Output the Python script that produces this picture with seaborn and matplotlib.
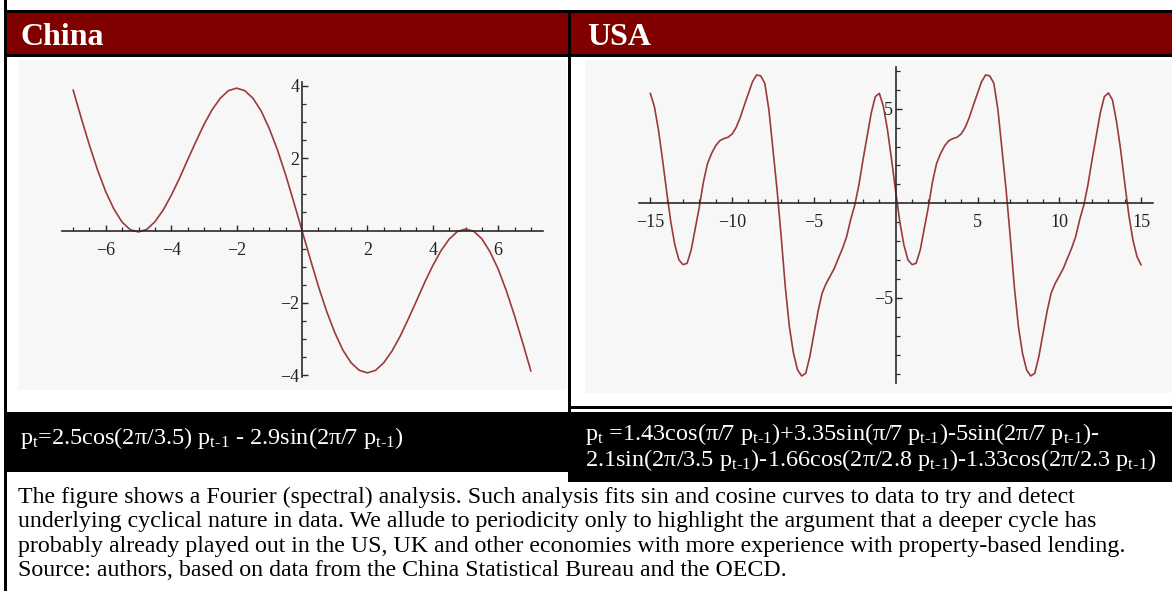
import numpy as np
import pandas as pd
import matplotlib
matplotlib.use("Agg")
import matplotlib.pyplot as plt
from matplotlib.patches import Rectangle
from matplotlib.ticker import FixedLocator, FixedFormatter
import seaborn as sns

# ---------------- data ----------------
china_x = [-7.0, -6.75, -6.5, -6.25, -6.0, -5.75, -5.5, -5.25, -5.0, -4.75,
           -4.5, -4.25, -4.0, -3.75, -3.5, -3.25, -3.0, -2.75, -2.5, -2.25,
           -2.0, -1.75, -1.5, -1.25, -1.0, -0.75, -0.5, -0.25, 0.0, 0.25,
           0.5, 0.75, 1.0, 1.25, 1.5, 1.75, 2.0, 2.25, 2.5, 2.75,
           3.0, 3.25, 3.5, 3.75, 4.0, 4.25, 4.5, 4.75, 5.0, 5.25,
           5.5, 5.75, 6.0, 6.25, 6.5, 6.75, 7.0]
china_y = [3.89, 3.11, 2.36, 1.67, 1.07, 0.59, 0.23, 0.02, -0.04, 0.03,
           0.24, 0.56, 0.97, 1.44, 1.95, 2.45, 2.93, 3.34, 3.66, 3.87,
           3.94, 3.87, 3.66, 3.31, 2.82, 2.23, 1.54, 0.78, 0.0, -0.78,
           -1.54, -2.23, -2.82, -3.31, -3.66, -3.87, -3.94, -3.87, -3.66, -3.34,
           -2.93, -2.45, -1.95, -1.44, -0.97, -0.56, -0.24, -0.03, 0.04, -0.02,
           -0.23, -0.59, -1.07, -1.67, -2.36, -3.11, -3.89]

usa_x = [-15.0, -14.75, -14.5, -14.25, -14.0, -13.75, -13.5, -13.25, -13.0, -12.75,
         -12.5, -12.25, -12.0, -11.75, -11.5, -11.25, -11.0, -10.75, -10.5, -10.25,
         -10.0, -9.75, -9.5, -9.25, -9.0, -8.75, -8.5, -8.25, -8.0, -7.75,
         -7.5, -7.25, -7.0, -6.75, -6.5, -6.25, -6.0, -5.75, -5.5, -5.25,
         -5.0, -4.75, -4.5, -4.25, -4.0, -3.75, -3.5, -3.25, -3.0, -2.75,
         -2.5, -2.25, -2.0, -1.75, -1.5, -1.25, -1.0, -0.75, -0.5, -0.25,
         0.0, 0.25, 0.5, 0.75, 1.0, 1.25, 1.5, 1.75, 2.0, 2.25,
         2.5, 2.75, 3.0, 3.25, 3.5, 3.75, 4.0, 4.25, 4.5, 4.75,
         5.0, 5.25, 5.5, 5.75, 6.0, 6.25, 6.5, 6.75, 7.0, 7.25,
         7.5, 7.75, 8.0, 8.25, 8.5, 8.75, 9.0, 9.25, 9.5, 9.75,
         10.0, 10.25, 10.5, 10.75, 11.0, 11.25, 11.5, 11.75, 12.0, 12.25,
         12.5, 12.75, 13.0, 13.25, 13.5, 13.75, 14.0, 14.25, 14.5, 14.75,
         15.0]
usa_y = [5.81, 5.11, 3.87, 2.29, 0.62, -0.97, -2.20, -2.99, -3.24, -3.17,
         -2.46, -1.32, -0.18, 1.14, 2.11, 2.64, 3.05, 3.31, 3.42, 3.49,
         3.66, 4.01, 4.54, 5.19, 5.81, 6.43, 6.78, 6.73, 6.34, 4.93,
         2.82, 0.70, -1.76, -4.40, -6.51, -7.92, -8.80, -9.12, -8.98, -8.10,
         -6.90, -5.72, -4.75, -4.23, -3.84, -3.43, -2.90, -2.38, -1.76, -0.85,
         -0.09, 0.97, 2.29, 3.52, 4.75, 5.63, 5.81, 5.11, 3.87, 2.29,
         0.62, -0.97, -2.20, -2.99, -3.24, -3.17, -2.46, -1.32, -0.18, 1.14,
         2.11, 2.64, 3.05, 3.31, 3.42, 3.49, 3.66, 4.01, 4.54, 5.19,
         5.81, 6.43, 6.78, 6.73, 6.34, 4.93, 2.82, 0.70, -1.76, -4.40,
         -6.51, -7.92, -8.80, -9.12, -8.98, -8.10, -6.90, -5.72, -4.75, -4.23,
         -3.84, -3.43, -2.90, -2.38, -1.76, -0.85, -0.09, 0.97, 2.29, 3.52,
         4.75, 5.63, 5.83, 5.46, 4.31, 2.82, 1.06, -0.62, -1.94, -2.82,
         -3.26]

china_xticks = [-6, -4, -2, 2, 4, 6]
china_xlabels = ["\u22126", "\u22124", "\u22122", "2", "4", "6"]
china_yticks = [-4, -2, 2, 4]
china_ylabels = ["\u22124", "\u22122", "2", "4"]
usa_xticks = [-15, -10, -5, 5, 10, 15]
usa_xlabels = ["\u221215", "\u221210", "\u22125", "5", "10", "15"]
usa_yticks = [-5, 5]
usa_ylabels = ["\u22125", "5"]

headers = ["China", "USA"]
formula_china = r"p$_{\mathrm{t}}$=2.5cos(2π/3.5) p$_{\text{t-1}}$ - 2.9sin(2π/7 p$_{\text{t-1}}$)"
formula_usa = [r"p$_{\mathrm{t}}$ =1.43cos(π/7 p$_{\text{t-1}}$)+3.35sin(π/7 p$_{\text{t-1}}$)-5sin(2π/7 p$_{\text{t-1}}$)-",
               r"2.1sin(2π/3.5 p$_{\text{t-1}}$)-1.66cos(2π/2.8 p$_{\text{t-1}}$)-1.33cos(2π/2.3 p$_{\text{t-1}}$)"]
caption = ["The figure shows a Fourier (spectral) analysis. Such analysis fits sin and cosine curves to data to try and detect",
           "underlying cyclical nature in data. We allude to periodicity only to highlight the argument that a deeper cycle has",
           "probably already played out in the US, UK and other economies with more experience with property-based lending.",
           "Source: authors, based on data from the China Statistical Bureau and the OECD."]

# ---------------- style ----------------
sns.set_theme(style="white")
plt.rcParams["font.family"] = ["Liberation Serif", "DejaVu Serif"]
plt.rcParams["mathtext.fontset"] = "custom"
plt.rcParams["mathtext.rm"] = "Liberation Serif"
plt.rcParams["mathtext.it"] = "Liberation Serif:italic"
plt.rcParams["mathtext.bf"] = "Liberation Serif:bold"

W, H = 1172, 591
fig = plt.figure(figsize=(W / 100, H / 100), dpi=100)
fig.patch.set_facecolor("white")

bg = fig.add_axes([0, 0, 1, 1])
bg.set_xlim(0, W)
bg.set_ylim(H, 0)
bg.axis("off")


def rect(x0, y0, x1, y1, color):
    bg.add_patch(Rectangle((x0, y0), x1 - x0, y1 - y0, facecolor=color,
                           edgecolor="none", lw=0))


RED = "#800000"
rect(4.5, 10, W, 12.7, "black")
rect(4.5, 12.7, W, 54.3, RED)
rect(4.5, 54.3, W, 57.3, "black")
rect(568, 10, 571, 412, "black")
rect(4, 0, 6.5, H, "black")
rect(571, 406, W, 408.7, "black")
rect(4, 411.5, 571, 472, "black")
rect(568, 411.5, W, 482, "black")

bg.text(21, 45, headers[0], color="white", fontsize=23, fontweight="bold",
        va="baseline", ha="left")
bg.text(587, 45, headers[1], color="white", fontsize=23, fontweight="bold",
        va="baseline", ha="left")

FS_F = 17.5
bg.text(20, 444, formula_china, color="white", fontsize=FS_F, va="baseline", ha="left")
bg.text(585, 440, formula_usa[0], color="white", fontsize=FS_F, va="baseline", ha="left")
bg.text(585, 466, formula_usa[1], color="white", fontsize=FS_F, va="baseline", ha="left")

for i, line in enumerate(caption):
    bg.text(18, 503 + i * 24.5, line, color="black", fontsize=17.2,
            va="baseline", ha="left")

LINE = "#9a3a3a"
AX = "#2a2a2a"


def px_axes(x0, y0, x1, y1):
    return fig.add_axes([x0 / W, 1 - y1 / H, (x1 - x0) / W, (y1 - y0) / H])


def style_axes(ax, xb, yb, xt, xl, yt, yl, xminor, yminor):
    ax.set_facecolor("#f7f7f7")
    for s in ["top", "right"]:
        ax.spines[s].set_visible(False)
    ax.spines["left"].set_position(("data", 0))
    ax.spines["bottom"].set_position(("data", 0))
    ax.spines["bottom"].set_bounds(*xb)
    ax.spines["left"].set_bounds(*yb)
    for s in ["left", "bottom"]:
        ax.spines[s].set_color(AX)
        ax.spines[s].set_linewidth(1.2)
    ax.xaxis.set_major_locator(FixedLocator(xt))
    ax.xaxis.set_major_formatter(FixedFormatter(xl))
    ax.yaxis.set_major_locator(FixedLocator(yt))
    ax.yaxis.set_major_formatter(FixedFormatter(yl))
    ax.xaxis.set_minor_locator(FixedLocator(xminor))
    ax.yaxis.set_minor_locator(FixedLocator(yminor))
    ax.tick_params(which="both", bottom=True, left=True, top=False, right=False)
    ax.tick_params(which="major", direction="in", length=4.5, width=1.0,
                   color=AX, labelsize=13, labelcolor="#222222")
    ax.tick_params(which="minor", direction="in", length=2.6, width=0.9, color=AX)
    ax.tick_params(axis="x", which="major", pad=8)
    ax.tick_params(axis="y", which="major", pad=2)
    ax.set_xlabel("")
    ax.set_ylabel("")
    ax.grid(False)


# China
ax1 = px_axes(18, 60, 567, 390)
df_c = pd.DataFrame({"x": china_x, "y": china_y})
sns.lineplot(data=df_c, x="x", y="y", ax=ax1, color=LINE, lw=1.2,
             estimator=None, sort=False)
ax1.set_xlim((18 - 302) / 32.7, (567 - 302) / 32.7)
ax1.set_ylim((230.5 - 390) / 36.13, (230.5 - 60) / 36.13)
cx_minor = [v / 2 for v in range(-14, 15) if v % 4 != 0]
cy_minor = [v / 2 for v in range(-8, 9) if v % 4 != 0]
style_axes(ax1, (-7.35, 7.37), (-4.05, 4.1), china_xticks, china_xlabels,
           china_yticks, china_ylabels, cx_minor, cy_minor)

# USA
ax2 = px_axes(585, 60, 1172, 393)
df_u = pd.DataFrame({"x": usa_x, "y": usa_y})
sns.lineplot(data=df_u, x="x", y="y", ax=ax2, color=LINE, lw=1.2,
             estimator=None, sort=False)
ax2.set_xlim((585 - 895.7) / 16.36, (1172 - 895.7) / 16.36)
ax2.set_ylim((203.3 - 393) / 18.93, (203.3 - 60) / 18.93)
ux_minor = [v for v in range(-15, 16) if v % 5 != 0]
uy_minor = [v for v in range(-9, 8) if v % 5 != 0]
style_axes(ax2, (-15.7, 15.7), (-9.5, 7.2), usa_xticks, usa_xlabels,
           usa_yticks, usa_ylabels, ux_minor, uy_minor)

fig.savefig("out.png", dpi=100, facecolor="white")
